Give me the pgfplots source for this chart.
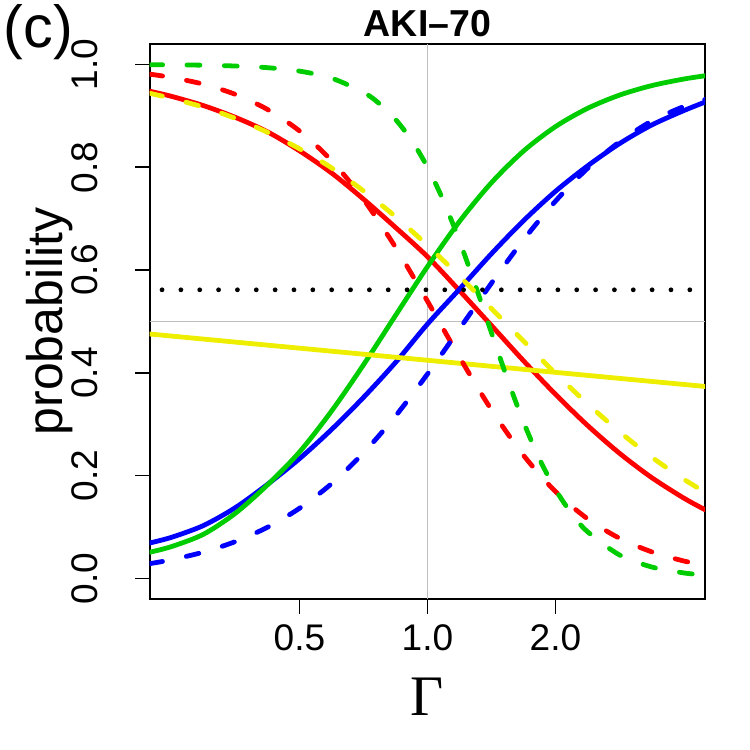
\documentclass[border=0pt]{standalone}
\usepackage{fontspec}
\setmainfont{Liberation Sans}
\newfontfamily\timesfont{Liberation Serif}
\usepackage{pgfplots}
\pgfplotsset{compat=1.18}
\definecolor{rgreen}{RGB}{0,205,0}
\definecolor{rblue}{RGB}{0,0,255}
\definecolor{rred}{RGB}{255,0,0}
\definecolor{ryellow}{RGB}{238,238,0}
\definecolor{rgray}{RGB}{190,190,190}
\pgfplotsset{
  solidc/.style={line width=2.3pt, no markers, smooth, line cap=round, line join=round},
  dashedc/.style={line width=2.3pt, no markers, smooth, line cap=round, line join=round, dash pattern=on 6.2pt off 11.7pt},
  every axis title/.style={at={(axis description cs:0.5,1)}, anchor=base, yshift=3.8pt, font=\bfseries\fontsize{18}{19}\selectfont},
}
\begin{document}
\begin{tikzpicture}
\begin{axis}[name=ax, scale only axis, width=266.7pt, height=266.5pt,
  xmode=log, xmin=0.2222, xmax=4.5, ymin=-0.04, ymax=1.04,
  xtick={0.5,1,2}, xticklabels={0.5,1.0,2.0},
  ytick={0,0.2,0.4,0.6,0.8,1}, yticklabels={0.0,0.2,0.4,0.6,0.8,1.0},
  minor xtick={}, minor ytick={},
  tick align=outside, major tick length=7pt,
  xtick pos=bottom, ytick pos=left,
  axis line style={line width=0.8pt},
  every tick/.style={black, line width=0.8pt},
  tick label style={font=\fontsize{17.8}{19}\selectfont},
  /pgf/number format/assume math mode=true,
  xticklabel style={anchor=north, inner sep=0pt},
  yticklabel style={rotate=90, anchor=south, inner sep=0pt},
  xticklabel shift=5.1pt, yticklabel shift=17.6pt,
  title={AKI--70},
  xlabel={{\timesfont Γ}},
  xlabel style={at={(axis description cs:0.5,-0.176)}, anchor=center, font=\fontsize{27.5}{29}\selectfont},
  ylabel={probability},
  ylabel style={at={(axis description cs:-0.181,0.5)}, anchor=center, font=\fontsize{24}{26}\selectfont},
]
% reference lines
\addplot[rgray, line width=0.5pt] coordinates {(0.2222,0.5) (4.5,0.5)};
\addplot[rgray, line width=0.5pt] coordinates {(1,-0.04) (1,1.04)};
% red solid
\addplot[solidc, rred] coordinates {
(0.2222,0.948) (0.25,0.938) (0.2973,0.920) (0.3536,0.897) (0.4204,0.869) (0.5,0.832)
(0.5946,0.789) (0.7071,0.738) (0.8409,0.683) (1,0.626) (1.1892,0.560) (1.4142,0.492)
(1.6818,0.4236) (2,0.3583) (2.3784,0.2978) (2.8284,0.2436) (3.3636,0.1965) (4,0.1567) (4.5,0.1335)};
% blue solid
\addplot[solidc, rblue] coordinates {
(0.2222,0.069) (0.25,0.080) (0.2973,0.103) (0.3536,0.138) (0.4204,0.183) (0.5,0.233)
(0.5946,0.2897) (0.7071,0.3522) (0.8409,0.4202) (1,0.495) (1.1892,0.5629) (1.4142,0.6319)
(1.6818,0.6960) (2,0.7532) (2.3784,0.8026) (2.8284,0.846) (3.3636,0.882) (4,0.910) (4.5,0.927)};
% green solid
\addplot[solidc, rgreen] coordinates {
(0.2222,0.051) (0.25,0.062) (0.2973,0.086) (0.3536,0.127) (0.4204,0.182) (0.5,0.246)
(0.5946,0.3255) (0.7071,0.4156) (0.8409,0.5116) (1,0.6068) (1.1892,0.6946) (1.4142,0.7701)
(1.6818,0.8315) (2,0.8791) (2.3784,0.9146) (2.8284,0.9404) (3.3636,0.9588) (4,0.9716) (4.5,0.9781)};
% yellow solid
\addplot[solidc, ryellow] coordinates {(0.2222,0.4756) (1,0.4245) (4.5,0.3735)};
% red dashed
\addplot[dashedc, rred] coordinates {
(0.2222,0.9812) (0.25,0.9748) (0.2973,0.9616) (0.3536,0.9417) (0.4204,0.9125) (0.5,0.8707)
(0.5946,0.8131) (0.7071,0.7374) (0.8409,0.6445) (1,0.5393) (1.1892,0.4305) (1.4142,0.3280)
(1.6818,0.2396) (2,0.1690) (2.3784,0.1161) (2.8284,0.0782) (3.3636,0.0519) (4,0.0341) (4.5,0.0256)};
% blue dashed
\addplot[dashedc, rblue] coordinates {
(0.2222,0.0288) (0.25,0.0364) (0.2973,0.0513) (0.3536,0.0718) (0.4204,0.0996) (0.5,0.1365)
(0.5946,0.1843) (0.7071,0.2442) (0.8409,0.3160) (1,0.3978) (1.1892,0.4857) (1.4142,0.5745)
(1.6818,0.6588) (2,0.7341) (2.3784,0.7978) (2.8284,0.8495) (3.3636,0.8897) (4,0.918) (4.5,0.932)};
% green dashed
\addplot[dashedc, rgreen] coordinates {
(0.2222,0.9996) (0.25,0.9993) (0.2973,0.9986) (0.3536,0.9970) (0.4204,0.9938) (0.5,0.9871)
(0.5946,0.9734) (0.7071,0.9459) (0.7711,0.9236) (0.8409,0.8932) (0.9170,0.8526) (1,0.8001)
(1.0905,0.7345) (1.1892,0.6568) (1.2968,0.5696) (1.4142,0.4779) (1.5422,0.3876) (1.6818,0.3045)
(1.8340,0.2324) (2,0.1731) (2.1810,0.1265) (2.3784,0.0910) (2.8284,0.0457) (3.3636,0.0224)
(4,0.0108) (4.5,0.0066)};
% yellow dashed
\addplot[dashedc, ryellow] coordinates {
(0.2222,0.944) (0.25,0.934) (0.2973,0.917) (0.3536,0.895) (0.4204,0.868) (0.5,0.836)
(0.5946,0.799) (0.7071,0.754) (0.8409,0.704) (1,0.648) (1.1892,0.588) (1.4142,0.525)
(1.6818,0.462) (2,0.399) (2.3784,0.340) (2.8284,0.2854) (3.3636,0.2363) (4,0.1934) (4.5,0.1678)};
% dotted line
\addplot[black, line width=2.3pt, line cap=round, dash pattern=on 0pt off 9.05pt, dash phase=3.15pt]
  coordinates {(0.2222,0.5616) (4.5,0.5616)};
\end{axis}
\node[anchor=base west, inner sep=0pt, font=\fontsize{28.5}{30}\selectfont] at ([shift={(-70.3pt,-1.9pt)}]ax.north west) {(c)};
\pgfresetboundingbox
\useasboundingbox ([shift={(-71.9pt,-72.3pt)}]ax.south west) rectangle ([shift={(21.5pt,21.1pt)}]ax.north east);
\end{tikzpicture}
\end{document}
